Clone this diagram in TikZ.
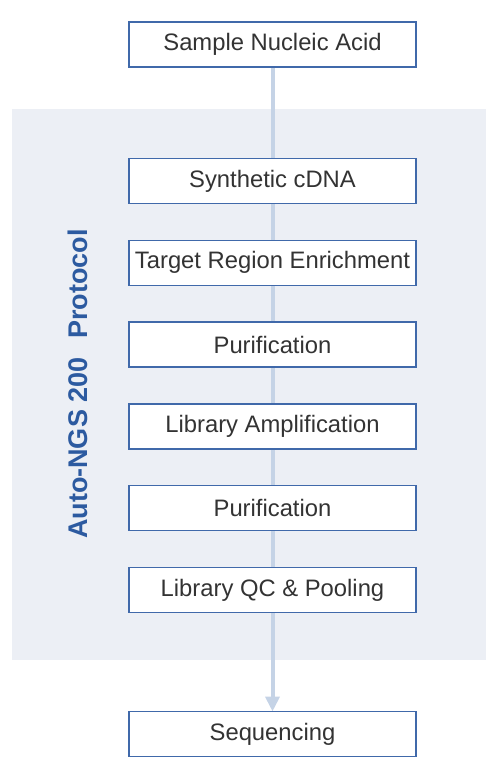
\documentclass[tikz,border=0pt]{standalone}
\usepackage{fontspec}
\setmainfont{Liberation Sans}
\usetikzlibrary{positioning, arrows.meta, backgrounds}

\definecolor{boxblue}{RGB}{64,105,170}
\definecolor{panelgray}{RGB}{236,239,245}
\definecolor{flowline}{RGB}{197,211,230}
\definecolor{titleblue}{RGB}{44,90,160}
\definecolor{textgray}{RGB}{51,51,51}

\begin{document}
\begin{tikzpicture}[
    x=1pt, y=1pt,
    node distance=36.8pt,
    stepbox/.style={draw=boxblue, line width=1.4pt, fill=white,
        minimum width=287pt, minimum height=45pt, inner sep=0pt, outer sep=0pt,
        text=textgray, font=\fontsize{23.8}{28}\selectfont},
    flow/.style={draw=flowline, line width=4pt,
        -{Triangle[length=15pt, width=14pt]}}
]
\useasboundingbox (0,0) rectangle (502,-767);

\node[stepbox] (sample) at (272.5,-44.5) {Sample Nucleic Acid};
\node[stepbox, below=91.5pt of sample] (cdna) {Synthetic cDNA};
\node[stepbox, below=of cdna] (enrich) {Target Region Enrichment};
\node[stepbox, below=of enrich] (purif1) {Purification};
\node[stepbox, below=of purif1] (amp) {Library Amplification};
\node[stepbox, below=of amp] (purif2) {Purification};
\node[stepbox, below=of purif2] (qc) {Library QC \& Pooling};
\node[stepbox, below=99pt of qc] (seq) {Sequencing};

\node[rotate=90, text=titleblue, font=\bfseries\fontsize{27}{32}\selectfont]
    (title) at (78,-384) {Auto-NGS 200\hspace{0.7em}Protocol};

\begin{scope}[on background layer]
\fill[panelgray] (12,-109) rectangle (486,-660);
\draw[flow] (sample) -- (seq);
\end{scope}

\end{tikzpicture}
\end{document}
